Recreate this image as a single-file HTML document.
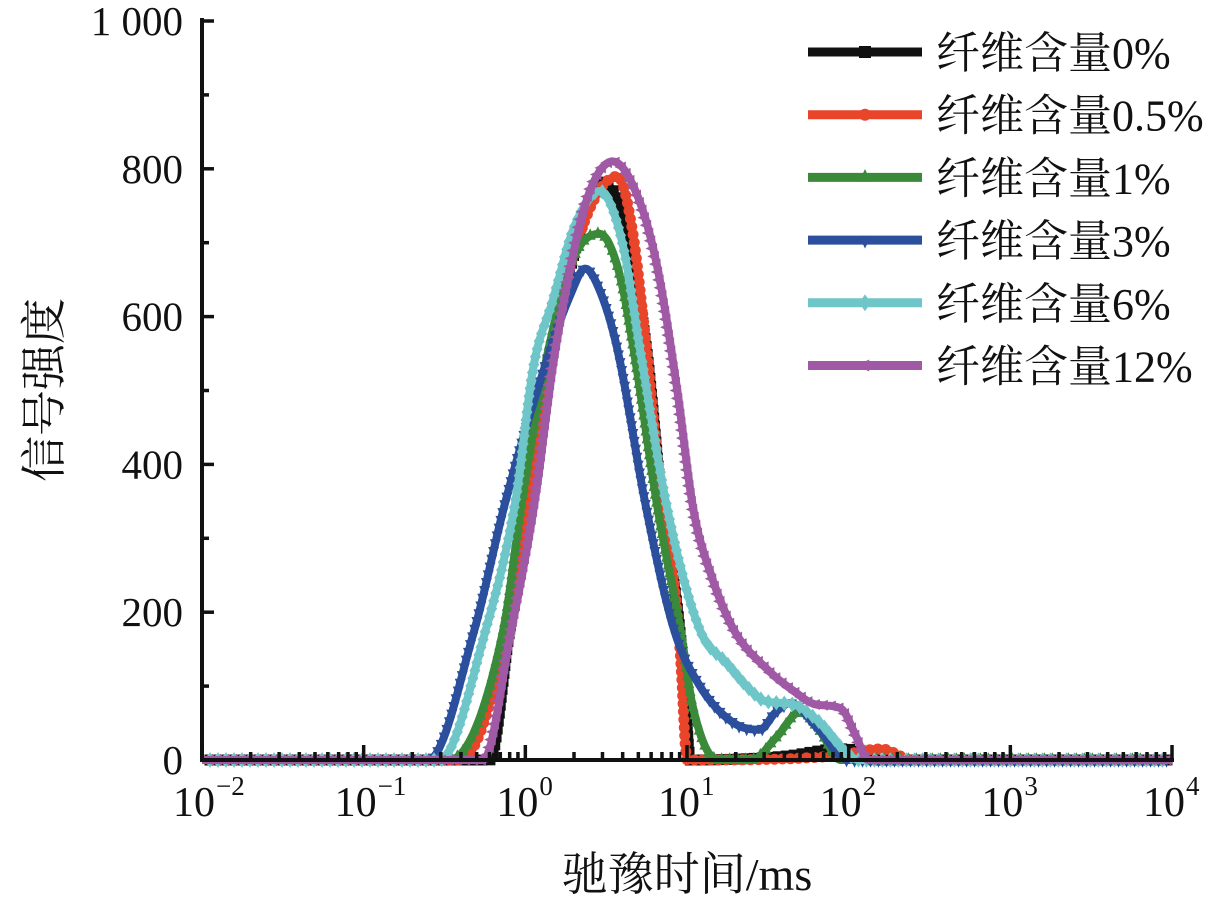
<!DOCTYPE html>
<html><head><meta charset="utf-8"><style>
body{margin:0;background:#fff}
svg{display:block}
text{font-family:"Liberation Serif","Noto Serif CJK SC",serif;fill:#111}
</style></head><body>
<svg id="chart" width="1214" height="910" viewBox="0 0 1214 910">
<g id="plot"></g>
<g id="axes"></g>
<g id="legend"></g>
<text x="687" y="890" font-size="46" text-anchor="middle">驰豫时间/ms</text>
<text transform="translate(60,390) rotate(-90)" font-size="46" text-anchor="middle">信号强度</text>
</svg>
<script>
const seriesNames = ["纤维含量0%","纤维含量0.5%","纤维含量1%","纤维含量3%","纤维含量6%","纤维含量12%"];
const seriesColors = ["#111111","#e8452a","#3a8a3a","#2b4f9c","#6ec6c8","#a05aa5"];
const xTickExps = [-2,-1,0,1,2,3,4];
const yTickValues = [0,200,400,600,800,1000];
const yTickLabels = ["0","200","400","600","800","1 000"];
// x values are log10(relaxation time / ms)
const lg0 = [-2,-0.22,-0.1,0.04,0.15,0.32,0.46,0.6,0.75,0.85,0.92,0.98,1.02,1.6,1.95,2.05,2.15,4];
const v0  = [0,0,172,352,532,700,782,740,555,338,240,120,0,5,15,12,0,0];
const lg1 = [-2,-0.4,-0.11,0.03,0.15,0.32,0.57,0.66,0.75,0.85,0.92,0.96,1.0,1.9,2.2,2.4,4];
const v1  = [0,0,172,352,532,700,790,720,555,338,240,140,0,5,15,0,0];
const lg2 = [-2,-0.47,-0.14,-0.02,0.12,0.3,0.46,0.58,0.67,0.82,0.96,1.04,1.19,1.4,1.55,1.7,1.82,1.95,4];
const v2  = [0,0,172,352,532,680,712,660,555,338,176,68,0,0,30,65,40,0,0];
const lg3 = [-2,-0.6,-0.32,-0.12,0.12,0.28,0.37,0.47,0.57,0.75,0.92,1.08,1.29,1.45,1.55,1.64,1.8,2.0,4];
const v3  = [0,0,172,352,532,630,665,630,555,338,176,100,50,41,65,77,45,0,0];
const lg4 = [-2,-0.53,-0.25,-0.06,0.05,0.17,0.3,0.46,0.6,0.71,0.88,1.08,1.25,1.39,1.48,1.66,1.8,2.07,4];
const v4  = [0,0,172,352,532,622,720,770,700,555,338,176,130,95,80,75,55,0,0];
const lg5 = [-2,-0.26,-0.09,0.06,0.17,0.24,0.38,0.54,0.7,0.82,0.94,1.04,1.15,1.29,1.5,1.65,1.8,1.95,2.05,2.12,4];
const v5  = [0,0,172,352,532,622,758,810,760,663,500,338,250,176,122,95,75,70,30,0,0];
const allLg = [lg0,lg1,lg2,lg3,lg4,lg5];
const allV = [v0,v1,v2,v3,v4,v5];

const X0=202, XD=161.67, Y0=760, YK=0.739;
function sx(lg){return X0+(lg+2)*XD;}
function sy(v){return Y0-v*YK;}
const NS="http://www.w3.org/2000/svg";
function mk(tag,attrs,parent){const e=document.createElementNS(NS,tag);for(const k in attrs)e.setAttribute(k,attrs[k]);parent.appendChild(e);return e;}
const plot=document.getElementById('plot'), axes=document.getElementById('axes'), legend=document.getElementById('legend');

function smooth(xs,ys){
  const n=xs.length, d=[], m=[];
  for(let i=0;i<n-1;i++) d.push((ys[i+1]-ys[i])/(xs[i+1]-xs[i]));
  m[0]=d[0]; m[n-1]=d[n-2];
  for(let i=1;i<n-1;i++){ m[i]=(d[i-1]*d[i]<=0)?0:(d[i-1]+d[i])/2; }
  for(let i=0;i<n-1;i++){
    if(d[i]===0){m[i]=0;m[i+1]=0;continue;}
    const a=m[i]/d[i], b=m[i+1]/d[i], s=a*a+b*b;
    if(s>9){const t=3/Math.sqrt(s);m[i]=t*a*d[i];m[i+1]=t*b*d[i];}
  }
  const out=[];
  for(let i=0;i<n-1;i++){
    const h=xs[i+1]-xs[i], steps=Math.max(1,Math.ceil(h/2));
    for(let k=0;k<steps;k++){
      const t=k/steps, t2=t*t, t3=t2*t;
      const y=(2*t3-3*t2+1)*ys[i]+(t3-2*t2+t)*h*m[i]+(-2*t3+3*t2)*ys[i+1]+(t3-t2)*h*m[i+1];
      out.push([xs[i]+t*h,y]);
    }
  }
  out.push([xs[n-1],ys[n-1]]);
  return out;
}

function markerShape(i,x,y,parent,r){
  let e;
  if(i===0){e=mk('rect',{x:x-r,y:y-r,width:2*r,height:2*r,fill:seriesColors[i]},parent);}
  else if(i===1){e=mk('circle',{cx:x,cy:y,r:r,fill:seriesColors[i]},parent);}
  else if(i===2){e=mk('polygon',{points:`${x},${y-r*1.4} ${x-r},${y+r*0.7} ${x+r},${y+r*0.7}`,fill:seriesColors[i]},parent);}
  else if(i===3){e=mk('polygon',{points:`${x},${y+r*1.4} ${x-r},${y-r*0.7} ${x+r},${y-r*0.7}`,fill:seriesColors[i]},parent);}
  else if(i===4){e=mk('polygon',{points:`${x},${y-r*1.4} ${x+r},${y} ${x},${y+r*1.4} ${x-r},${y}`,fill:seriesColors[i]},parent);}
  else {e=mk('polygon',{points:`${x-r*1.4},${y} ${x+r*0.7},${y-r} ${x+r*0.7},${y+r}`,fill:seriesColors[i]},parent);}
  return e;
}

allLg.forEach((lgs,i)=>{
  const g=mk('g',{},plot);
  
  
  const pts=smooth(lgs.map(sx),allV[i].map(sy));
  const line=mk('polyline',{points:pts.map(p=>p[0].toFixed(1)+','+p[1].toFixed(1)).join(' '),fill:'none',stroke:seriesColors[i],'stroke-width':8,'stroke-linejoin':'round'},g);
  
  
  const L=line.getTotalLength();
  for(let s=0;s<L;s+=8){
    const p=line.getPointAtLength(s);
    if(p.x<X0+3||p.x>1170) continue;
    const m=markerShape(i,p.x,p.y,g,5.5);
    
    
  }
});

const yAxis=mk('line',{x1:X0,y1:18,x2:X0,y2:762,stroke:'#111','stroke-width':4},axes);


const xAxis=mk('line',{x1:X0-2,y1:760,x2:1174,y2:760,stroke:'#111','stroke-width':4},axes);


for(let v=0;v<=1000;v+=100){
  const t=mk('line',{x1:X0,y1:sy(v),x2:X0+(v%200===0?12:7),y2:sy(v),stroke:'#111','stroke-width':3.5},axes);
  
  
}
yTickValues.forEach((v,k)=>{
  const t=mk('text',{x:183,y:sy(v)+14,'font-size':41,'text-anchor':'end'},axes);
  t.textContent=yTickLabels[k];
  
  
});
xTickExps.forEach((e,k)=>{
  const x=sx(e);
  const t=mk('line',{x1:x,y1:760,x2:x,y2:745,stroke:'#111','stroke-width':3.5},axes);
  
  
  if(k<xTickExps.length-1){
    for(let m=2;m<10;m++){
      const mx=sx(e+Math.log10(m));
      const mt=mk('line',{x1:mx,y1:760,x2:mx,y2:752,stroke:'#111','stroke-width':3.5},axes);
      
      
    }
  }
  const lab=mk('text',{x:x-8,y:816,'font-size':42,'text-anchor':'middle'},axes);
  lab.textContent='10';
  
  
  const sup=mk('text',{x:x+14,y:795,'font-size':27,'text-anchor':'start'},axes);
  sup.textContent=(e<0?'\u2212'+(-e):String(e));
  
  
});

seriesNames.forEach((n,i)=>{
  const y=52+i*62.7;
  const g=mk('g',{},legend);
  
  
  mk('line',{x1:808,y1:y,x2:922,y2:y,stroke:seriesColors[i],'stroke-width':9},g);
  markerShape(i,865,y,g,6);
  const t=mk('text',{x:936,y:y+16,'font-size':44},g);
  t.textContent=n;
});
</script>
</body></html>
